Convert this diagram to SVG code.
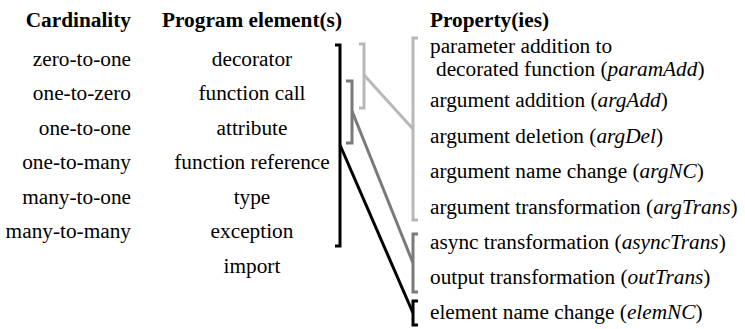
<svg xmlns="http://www.w3.org/2000/svg" width="745" height="329" viewBox="0 0 745 329">
<style>
.t{font-family:'Liberation Serif','Times New Roman',serif;font-size:21.3px;fill:#000}
.h{font-weight:bold}
.r{text-anchor:end}
.c{text-anchor:middle}
.i{font-style:italic}
.br{fill:none;stroke-width:3;stroke-linejoin:miter}
.k{stroke:#000}
.m{stroke:#7a7a7a}
.l{stroke:#b8b8b8}
</style>
<rect width="745" height="329" fill="#fff"/>
<g class="t">
<g id="headers">
<text class="h r" x="131" y="27">Cardinality</text>
<text class="h c" x="252" y="27">Program element(s)</text>
<text class="h" x="430" y="27">Property(ies)</text>
</g>
<g id="cardinality">
<text class="r" x="131" y="65.5">zero-to-one</text>
<text class="r" x="131" y="100">one-to-zero</text>
<text class="r" x="131" y="134.5">one-to-one</text>
<text class="r" x="131" y="169">one-to-many</text>
<text class="r" x="131" y="203.5">many-to-one</text>
<text class="r" x="131" y="238">many-to-many</text>
</g>
<g id="elements">
<text class="c" x="252" y="65.5">decorator</text>
<text class="c" x="252" y="100">function call</text>
<text class="c" x="252" y="134.5">attribute</text>
<text class="c" x="252" y="169">function reference</text>
<text class="c" x="252" y="203.5">type</text>
<text class="c" x="252" y="238">exception</text>
<text class="c" x="252" y="272.5">import</text>
</g>
<g id="properties">
<text x="430" y="53">parameter addition to</text>
<text x="436" y="75.5">decorated function (<tspan class="i">paramAdd</tspan>)</text>
<text x="430" y="107">argument addition (<tspan class="i">argAdd</tspan>)</text>
<text x="430" y="142.5">argument deletion (<tspan class="i">argDel</tspan>)</text>
<text x="430" y="178">argument name change (<tspan class="i">argNC</tspan>)</text>
<text x="430" y="213.5">argument transformation (<tspan class="i">argTrans</tspan>)</text>
<text x="430" y="249">async transformation (<tspan class="i">asyncTrans</tspan>)</text>
<text x="430" y="284">output transformation (<tspan class="i">outTrans</tspan>)</text>
<text x="430" y="319">element name change (<tspan class="i">elemNC</tspan>)</text>
</g>
</g>
<g id="brackets-left">
<path class="br k" d="M335,45 H340 V246 H335"/>
<path class="br m" d="M346,81 H352 V143 H346"/>
<path class="br l" d="M359,44 H364 V108 H359"/>
</g>
<g id="brackets-right">
<path class="br l" d="M418,38 H413 V220 H418"/>
<path class="br m" d="M418,234 H413 V292 H418"/>
<path class="br k" d="M418,301 H413 V325 H418"/>
</g>
<g id="connectors">
<line class="br l" x1="364" y1="75" x2="413" y2="129"/>
<line class="br m" x1="352" y1="111" x2="413" y2="263"/>
<line class="br k" x1="340" y1="145" x2="413" y2="313"/>
</g>
</svg>
